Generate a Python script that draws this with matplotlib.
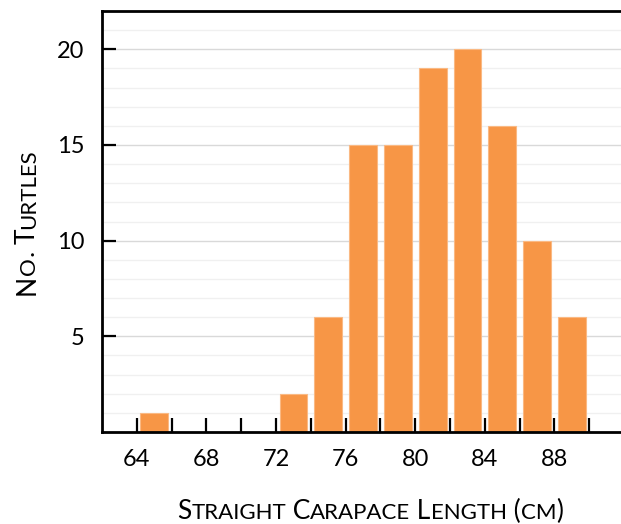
import numpy as np
import matplotlib
matplotlib.use("Agg")
from matplotlib import pyplot as plt
from matplotlib import transforms

plt.rcParams['font.family'] = ['Lato', 'DejaVu Sans']

# histogram data, 2 cm bins
bin_left = np.array([64, 66, 68, 70, 72, 74, 76, 78, 80, 82, 84, 86, 88])
counts = np.array([1, 0, 0, 0, 2, 6, 15, 15, 19, 20, 16, 10, 6])
x_ticklabels = [64, 68, 72, 76, 80, 84, 88]
y_ticklabels = [5, 10, 15, 20]

xlabel = "Straight Carapace Length (cm)"
ylabel = "No. Turtles"

fig = plt.figure(figsize=(6.21, 5.24), dpi=100)
ax = fig.add_axes([102 / 621, 1 - 432 / 524, 536 / 621, 421 / 524])

# light grid, every unit, darker every 5
for yv in range(1, 23):
    c = '#D9D9D9' if yv % 5 == 0 else '#F0F0F0'
    ax.axhline(yv, color=c, lw=1.0, zorder=0)

ax.bar(bin_left + 1, counts, width=1.6, color='#F79646', edgecolor='#FAB983',
       linewidth=0.8, zorder=2)

ax.set_xlim(62, 92.8)
ax.set_ylim(0, 22)

ax.set_xticks(np.arange(64, 91, 2))
ax.set_xticklabels([str(v) if v in x_ticklabels else '' for v in range(64, 91, 2)])
ax.set_yticks(y_ticklabels)
ax.set_yticklabels([str(v) for v in y_ticklabels])

ax.tick_params(axis='both', direction='in', length=10, width=1.6, labelsize=17,
               colors='black')
ax.tick_params(axis='x', pad=12)
ax.tick_params(axis='y', pad=12.5)

for s in ['left', 'bottom', 'top']:
    ax.spines[s].set_linewidth(2)
    ax.spines[s].set_color('black')
ax.spines['right'].set_visible(False)


def small_caps(fig, text, cx, cy, big=19, small=16, rotation=0):
    # fake small caps: lowercase -> uppercase at a smaller size
    renderer = fig.canvas.get_renderer()
    runs = []
    for ch in text:
        is_small = ch.islower()
        if runs and runs[-1][1] == is_small:
            runs[-1][0] += ch
        else:
            runs.append([ch, is_small])

    def width(s, size):
        t = fig.text(0, 0, s + "|", fontsize=size)
        w1 = t.get_window_extent(renderer).width
        t.remove()
        t = fig.text(0, 0, "|", fontsize=size)
        w2 = t.get_window_extent(renderer).width
        t.remove()
        return w1 - w2

    pieces = []
    for s, is_small in runs:
        size = small if is_small else big
        s2 = s.upper() if is_small else s
        pieces.append((s2, size, width(s2, size)))
    total = sum(p[2] for p in pieces)
    off = -total / 2
    for s, size, w in pieces:
        if rotation == 0:
            tr = transforms.offset_copy(fig.transFigure, fig=fig, x=off * 72 / fig.dpi, y=0,
                                        units='points')
            fig.text(cx, cy, s, fontsize=size, ha='left', va='baseline', transform=tr)
        else:
            tr = transforms.offset_copy(fig.transFigure, fig=fig, x=0, y=off * 72 / fig.dpi,
                                        units='points')
            fig.text(cx, cy, s, fontsize=size, ha='left', va='baseline', rotation=90,
                     rotation_mode='anchor', transform=tr)
        off += w


small_caps(fig, xlabel, 370 / 621, 5 / 524)
small_caps(fig, ylabel, 35 / 621, 1 - 222 / 524, rotation=90)

fig.savefig("out.png", dpi=100)
